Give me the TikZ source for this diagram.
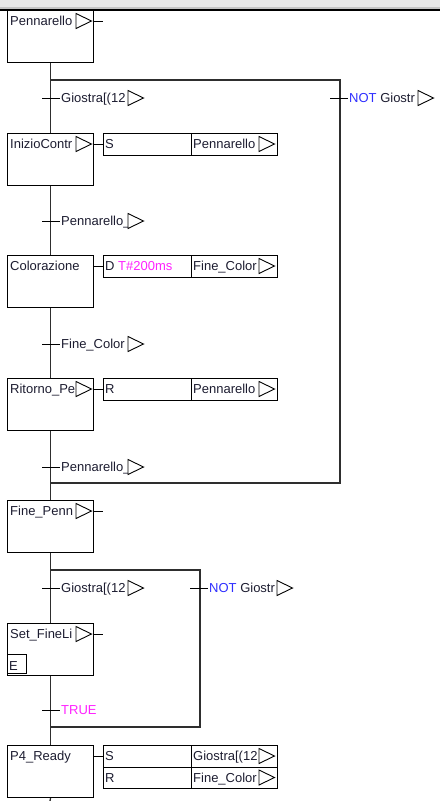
\documentclass[tikz,border=0pt]{standalone}
\usepackage{fontspec}
\setmainfont{Liberation Sans}
\definecolor{txtcol}{HTML}{1C1C30}
\definecolor{lncol}{HTML}{2E2E2E}
\definecolor{magtxt}{HTML}{FF22FF}
\definecolor{bluetxt}{HTML}{2F2FFF}
\definecolor{bandA}{HTML}{E8E8E8}
\definecolor{bandB}{HTML}{C4C4C4}
\begin{document}
\begin{tikzpicture}[x=1pt,y=-1pt,
  ln/.style={line width=1.3pt, draw=lncol},
  tick/.style={line width=1pt, draw=black},
  stepbox/.style={draw=black, line width=1.1pt, rectangle, minimum width=86pt, minimum height=52pt, inner sep=0pt, anchor=north west},
  qbox/.style={draw=black, line width=1.1pt, rectangle, minimum width=88pt, minimum height=21.5pt, inner sep=0pt, anchor=north west},
  abox/.style={draw=black, line width=1.1pt, rectangle, minimum width=86pt, minimum height=21.5pt, inner sep=0pt, anchor=north west},
  ebox/.style={draw=black, line width=1.1pt, rectangle, minimum width=19pt, minimum height=19pt, inner sep=0pt, anchor=south west},
  txt/.style={inner sep=0pt, anchor=base west, font=\fontsize{13}{15}\selectfont, text=txtcol},
  tri/.pic={\draw[line width=0.9pt, black, fill=white] (0,-7.5) -- (15.5,0) -- (0,7.5) -- cycle;}
]
\useasboundingbox (0,0) rectangle (440,801);
% top band
\fill[bandA] (0,0) rectangle (440,7);
\fill[bandB] (0,7) rectangle (440,9);
\draw[line width=1.6pt, black] (0,10) -- (440,10);

% steps
\node[stepbox] (s1) at (7,10) {};
\node[stepbox] (s2) at (7,133) {};
\node[stepbox] (s3) at (7,255) {};
\node[stepbox] (s4) at (7,378) {};
\node[stepbox] (s5) at (7,500) {};
\node[stepbox] (s6) at (7,623) {};
\node[stepbox] (s7) at (7,745) {};
\node[ebox] (e6) at (7,674) {};
\node[txt] (e6t) at (9,670) {E};

% branch coordinates
\coordinate (d1l) at (50,80);
\coordinate (d1r) at (340,80);
\coordinate (c1l) at (50,483);
\coordinate (c1r) at (340,483);
\coordinate (d2l) at (50,570);
\coordinate (d2r) at (200,570);
\coordinate (c2l) at (50,727);
\coordinate (c2r) at (200,727);
\coordinate (bot) at (50,801);

% main flow lines
\draw[ln] (s1.south) -- (s2.north);
\draw[ln] (s2.south) -- (s3.north);
\draw[ln] (s3.south) -- (s4.north);
\draw[ln] (s4.south) -- (s5.north);
\draw[ln] (s5.south) -- (s6.north);
\draw[ln] (s6.south) -- (s7.north);
\draw[ln] (s7.south) -- (bot);
\draw[ln] (d1l) -- (d1r) -- (c1r) -- (c1l);
\draw[ln] (d2l) -- (d2r) -- (c2r) -- (c2l);

% step labels
\node[txt] (l1) at (10,25.6) {Pennarello};
\node[txt] (l2) at (10,148.6) {InizioContr};
\node[txt] (l3) at (10,270.6) {Colorazione};
\node[txt] (l4) at (10,393.6) {Ritorno\_Pe};
\node[txt] (l5) at (10,515.6) {Fine\_Penn};
\node[txt] (l6) at (10,638.6) {Set\_FineLi};
\node[txt] (l7) at (10,760.6) {P4\_Ready};
\pic at (76,21) {tri};
\pic at (76,144) {tri};
\pic at (76,389) {tri};
\pic at (76,511) {tri};
\pic at (76,634) {tri};

% step stubs without actions
\coordinate (k1) at (103,21);
\coordinate (k5) at (103,511);
\coordinate (k6) at (103,634);
\draw[tick] (s1.east |- k1) -- (k1);
\draw[tick] (s5.east |- k5) -- (k5);
\draw[tick] (s6.east |- k6) -- (k6);

% action blocks
\node[qbox] (q2) at (103,133) {};
\node[abox] (a2) at (191,133) {};
\node[qbox] (q3) at (103,255) {};
\node[abox] (a3) at (191,255) {};
\node[qbox] (q4) at (103,378) {};
\node[abox] (a4) at (191,378) {};
\node[qbox] (q7a) at (103,745) {};
\node[abox] (a7a) at (191,745) {};
\node[qbox] (q7b) at (103,766.5) {};
\node[abox] (a7b) at (191,766.5) {};
\draw[tick] (s2.east |- q2.west) -- (q2.west);
\draw[tick] (s3.east |- q3.west) -- (q3.west);
\draw[tick] (s4.east |- q4.west) -- (q4.west);
\draw[tick] (s7.east |- q7a.west) -- (q7a.west);

\node[txt] (q2t) at (105,148.6) {S};
\node[txt] (a2t) at (193,148.6) {Pennarello};
\pic at (259,144) {tri};
\node[txt] (q3t) at (105,270.6) {D \textcolor{magtxt}{T\#200ms}};
\node[txt] (a3t) at (193,270.6) {Fine\_Color};
\pic at (259,266) {tri};
\node[txt] (q4t) at (105,393.6) {R};
\node[txt] (a4t) at (193,393.6) {Pennarello};
\pic at (259,389) {tri};
\node[txt] (q7at) at (105,760.6) {S};
\node[txt] (a7at) at (193,760.6) {Giostra[(12};
\pic at (259,756) {tri};
\node[txt] (q7bt) at (105,782.1) {R};
\node[txt] (a7bt) at (193,782.1) {Fine\_Color};
\pic at (259,777.5) {tri};

% transitions
\draw[tick] (42,98) -- (60,98);
\node[txt] (t1) at (61,102.6) {Giostra[(12};
\pic at (128,98) {tri};
\draw[tick] (330,98) -- (348,98);
\node[txt] (t1n) at (349,102.6) {\textcolor{bluetxt}{NOT} Giostr};
\pic at (418,98) {tri};

\draw[tick] (42,221) -- (60,221);
\node[txt] (t2) at (61,225.6) {Pennarello\_};
\pic at (128,221) {tri};

\draw[tick] (42,344) -- (60,344);
\node[txt] (t3) at (61,348.6) {Fine\_Color};
\pic at (128,344) {tri};

\draw[tick] (42,467) -- (60,467);
\node[txt] (t4) at (61,471.6) {Pennarello\_};
\pic at (128,467) {tri};

\draw[tick] (42,588) -- (60,588);
\node[txt] (t5) at (61,592.6) {Giostra[(12};
\pic at (128,588) {tri};
\draw[tick] (190,588) -- (208,588);
\node[txt] (t5n) at (209,592.6) {\textcolor{bluetxt}{NOT} Giostr};
\pic at (277,588) {tri};

\draw[tick] (42,710) -- (60,710);
\node[txt] (t6) at (61,714.6) {\textcolor{magtxt}{TRUE}};
\end{tikzpicture}
\end{document}
